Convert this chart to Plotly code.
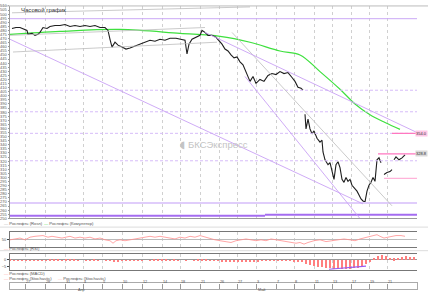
import plotly.graph_objects as go

W, H = 428, 293

# ---------------- data ----------------
# x = bar index (hourly chart), price in RUB
price_x = [2, 6, 10, 14, 17, 18, 22, 25, 28, 30, 33, 37, 40, 45, 50, 55, 60, 65, 70, 75, 80, 85, 90, 95, 98,
           100, 102, 105, 108, 112, 116, 120, 125, 130, 135, 140, 145, 150, 155, 160, 166, 171, 175, 177, 179,
           182, 186, 190, 192, 195, 198, 202, 206, 209, 212, 215, 218, 221, 224, 227, 230, 233, 237, 240, 243,
           246, 250, 254, 258, 262, 266, 270, 274, 278, 282, 285, 288, 291, 293, None,
           295, 296, 298, 300, 302, 304, 307, 310, 312, 313, 315, 318, 320, 322, 324, 326, 328, 330, 332, 334,
           336, 338, 340, 342, 345, 347, 349, 351, 353, 355, 357, 359, 361, 363, 365, 367, 369, 371, None,
           374, 377, 380, 382, None, 384, 386, 389, 392, 395]
price_y = [482.4, 483.6, 483.6, 481.2, 480.0, 475.2, 476.4, 474.0, 475.2, 477.6, 483.6, 482.4, 484.8, 486.0,
           486.0, 487.2, 484.8, 486.0, 484.8, 486.0, 484.8, 486.0, 483.6, 483.6, 480.0, 469.2, 459.6, 465.6,
           462.0, 459.6, 457.2, 458.4, 460.8, 463.2, 465.6, 468.0, 466.8, 469.2, 468.0, 470.4, 470.4, 469.2,
           468.0, 451.2, 463.2, 469.2, 471.6, 474.0, 480.0, 477.6, 474.0, 474.0, 471.6, 468.0, 463.2, 457.2,
           454.8, 450.0, 446.4, 447.6, 441.6, 438.0, 427.2, 417.6, 423.6, 415.2, 420.0, 417.6, 424.8, 427.2,
           426.0, 429.6, 427.2, 428.4, 422.4, 417.6, 410.4, 409.2, 406.8, None,
           377.4, 359.4, 371.4, 359.4, 353.4, 357.0, 348.0, 343.2, 345.6, 331.2, 321.6, 315.6, 318.0, 307.2,
           297.6, 315.6, 319.2, 312.0, 297.6, 294.0, 300.0, 295.2, 297.6, 290.4, 285.6, 283.2, 278.4, 273.6,
           271.2, 270.0, 283.2, 290.4, 294.0, 300.0, 295.2, 321.6, 324.0, 318.0, None,
           303.6, 306.0, 307.2, 309.6, None, 321.6, 325.2, 321.6, 324.0, 327.6]

ma_x = [0, 50, 110, 170, 210, 240, 270, 290, 310, 330, 345, 360, 375, 390]
ma_y = [475.2, 478.8, 481.2, 476.4, 472.8, 465.6, 454.8, 450.0, 429.6, 408.0, 390.0, 376.8, 367.2, 358.8]

# horizontal levels
level_values = [494.4, 406.8, 380.4, 354.0, 320.4, 268.8]
support_value = 253.2
pink_start = [368, 382, 374]
pink_values = [328.8, 354.0, 298.8]

# trend lines (x0, y0, x1, y1)
grey_trends = [(2, 501.6, 240, 508.8), (0, 474.0, 195, 483.6), (3, 453.6, 207, 465.6), (222, 477.6, 382, 265.2)]
violet_trends = [(0, 469.2, 353, 267.6), (195, 477.6, 407, 355.0), (235, 423.6, 350, 249.6)]

rsi_x = [0, 5, 10, 15, 20, 25, 30, 33, 38, 42, 47, 52, 56, 60, 65, 70, 75, 80, 85, 90, 95, 100, 103, 106, 110,
         115, 120, 125, 130, 135, 140, 145, 150, 155, 160, 165, 170, 175, 180, 185, 190, 195, 200, 205, 210,
         215, 221, 226, 231, 236, 241, 246, 251, 256, 261, 266, 271, 276, 281, 286, 290, 294, 298, 304, 310,
         316, 322, 328, 334, 340, 345, 350, 354, 357, 361, 364, 367, 370, 374, 378, 382, 386, 391, 395]
rsi_y = [47, 53, 59, 47, 65, 71, 71, 76, 65, 71, 65, 59, 65, 71, 59, 65, 59, 65, 53, 59, 47, 41, 24, 41, 47,
         41, 47, 53, 59, 65, 71, 65, 71, 65, 59, 53, 65, 59, 71, 65, 76, 65, 53, 47, 41,
         35, 29, 41, 47, 53, 47, 41, 47, 41, 53, 47, 41, 35, 29, 24, 29, 18, 29, 41, 47,
         35, 41, 47, 53, 47, 41, 53, 59, 65, 71, 76, 82, 71, 59, 65, 71, 76, 76, 71]

macd_x = list(range(0, 408, 4))
macd_y = [0.2, 0.1, -0.1, -0.3, -0.4, -0.3, -0.2, -0.3, -0.2, 0.1, 0.2, 0.3, 0.2, 0.1, 0.2, 0.3, 0.2, 0.1, 0.0,
          -0.1, 0.1, 0.2, 0.1, 0.0, -0.2, -0.5, -0.7, -0.6, -0.5, -0.4, -0.4, -0.3, -0.2, -0.1, 0.0, 0.1, 0.2,
          0.2, 0.3, 0.2, 0.1, 0.2, 0.1, 0.0, -0.2, 0.0, 0.1, 0.3, 0.4, 0.3, 0.1, -0.2, -0.5, -0.8, -1.0, -1.1,
          -1.2, -1.2, -1.3, -1.1, -1.0, -0.8, -0.6, -0.5, -0.4, -0.3, -0.2, -0.2, -0.1, -0.2, -0.3, -0.6, -1.0,
          -1.6, -2.4, -3.2, -4.0, -4.6, -5.2, -5.7, -6.0, -6.2, -6.4, -6.5, -6.4, -6.2, -6.0, -5.6, -4.8, -3.0,
          -0.8, 1.5, 3.0, 3.6, 3.2, 2.0, 1.4, 2.0, 2.6, 2.8, 2.7, 2.5]
macd_div = (319, -6.9, 356, -4.6)

day_ticks = [15, 35, 55, 73, 92, 112, 132, 152, 170, 190, 209, 227, 246, 266, 284, 304, 322, 341, 359, 377]
day_labels = ["27", "28", "31", "4", "5", "10", "12", "14", "18", "21", "26", "27", "3", "7", "8", "11", "13",
              "17", "19", "21"]
month_ticks = [66, 246]
month_labels = ["Апр", "Май"]
price_ticks = list(range(250, 511, 5))
marker_labels = [354.0, 328.8]

# ---------------- figure ----------------
def py(p):
    return 1 - p / H

def px(p):
    return p / W

FONT = "Liberation Sans"
XD = [px(10), px(417)]
grid = dict(showgrid=True, gridcolor="#d0d0d0", griddash="dot", gridwidth=1)

fig = go.Figure()
fig.add_trace(go.Scatter(x=ma_x, y=ma_y, mode="lines", line=dict(color="#3ee03e", width=1.2),
                         xaxis="x", yaxis="y", showlegend=False, line_shape="spline"))
fig.add_trace(go.Scatter(x=price_x, y=price_y, mode="lines", line=dict(color="#1e1e1e", width=1.1),
                         xaxis="x", yaxis="y", showlegend=False, connectgaps=False))
fig.add_trace(go.Scatter(x=rsi_x, y=rsi_y, mode="lines", line=dict(color="#ff8f8f", width=0.8),
                         xaxis="x2", yaxis="y2", showlegend=False))
fig.add_trace(go.Bar(x=macd_x, y=macd_y, marker=dict(color="#ff7f7f", line=dict(width=0)), width=1.2,
                     xaxis="x3", yaxis="y3", showlegend=False))

shapes = []
for i, v in enumerate(level_values):
    dash = "solid" if i in (0, 5) else "3px,2px"
    w = 2 if i == 5 else 1
    col = "#e0cdfb" if i == 5 else ("#caa8f6" if i == 0 else "#d6bcf8")
    shapes.append(dict(type="line", xref="x", yref="y", x0=0, x1=407, y0=v, y1=v,
                       line=dict(color=col, width=w, dash=dash)))
shapes.append(dict(type="line", xref="x", yref="y", x0=0, x1=255, y0=support_value, y1=support_value,
                   line=dict(color="#a46cf0", width=2)))
shapes.append(dict(type="line", xref="x", yref="y", x0=255, x1=407, y0=support_value + 1.2,
                   y1=support_value + 1.2, line=dict(color="#a46cf0", width=2)))
for i, (x0, v) in enumerate(zip(pink_start, pink_values)):
    col = "#ffb3d9" if i == 2 else "#ff77c0"
    shapes.append(dict(type="line", xref="x", yref="y", x0=x0, x1=407, y0=v, y1=v,
                       line=dict(color=col, width=1.2)))
for (x0, y0, x1, y1) in grey_trends:
    shapes.append(dict(type="line", xref="x", yref="y", x0=x0, y0=y0, x1=x1, y1=y1,
                       line=dict(color="#bdbdbd", width=0.8)))
for (x0, y0, x1, y1) in violet_trends:
    shapes.append(dict(type="line", xref="x", yref="y", x0=x0, y0=y0, x1=x1, y1=y1,
                       line=dict(color="#c9a2f5", width=0.9)))
x0, y0, x1, y1 = macd_div
shapes.append(dict(type="line", xref="x3", yref="y3", x0=x0, y0=y0, x1=x1, y1=y1,
                   line=dict(color="#9a5cf0", width=1.2)))
# panel separators
for sy in [228, 252]:
    shapes.append(dict(type="line", xref="paper", yref="paper", x0=0, x1=1, y0=py(sy), y1=py(sy),
                       line=dict(color="#dcdcdc", width=1)))
shapes.append(dict(type="line", xref="paper", yref="paper", x0=0, x1=1, y0=py(3), y1=py(3),
                   line=dict(color="#bbbbbb", width=1)))

ann = []
ann.append(dict(text="Часовой график", x=px(19), y=py(7), xref="paper", yref="paper", xanchor="left",
                yanchor="middle", showarrow=False, font=dict(size=6, color="#333", family=FONT)))
ann.append(dict(text="БКСЭкспресс", x=px(218), y=py(144), xref="paper", yref="paper", showarrow=False,
                font=dict(size=9.5, color="#c4c4c4", family=FONT)))
ann.append(dict(text="◖", x=px(182), y=py(144), xref="paper", yref="paper", showarrow=False,
                font=dict(size=10, color="#c4c4c4", family="DejaVu Sans")))

def legend(txt, col, xpx, ypx):
    ann.append(dict(text=f'<span style="color:{col}">—</span> {txt}', x=px(xpx), y=py(ypx), xref="paper",
                    yref="paper", xanchor="left", yanchor="middle", showarrow=False,
                    font=dict(size=4.2, color="#555", family=FONT)))

legend("Роснефть (Rosn)", "#aaaaaa", 2, 224)
legend("Роснефть (Комулятор)", "#3ee03e", 42, 224)
legend("Роснефть (RSI)", "#ff8f8f", 2, 250)
legend("Роснефть (MACD)", "#ff8f8f", 2, 275.5)
legend("Роснефть (Stochastic)", "#ff8f8f", 2, 280.5)
legend("Роснефть (Stochastic)", "#ffb0b0", 56, 280.5)

for mx, ml in zip(month_ticks, month_labels):
    ann.append(dict(text=ml, x=mx, y=py(292.3), xref="x4", yref="paper", xanchor="left", yanchor="middle",
                    showarrow=False, font=dict(size=3.8, color="#555", family=FONT)))
for i, v in enumerate(marker_labels):
    ann.append(dict(text=f"{v:.1f}", x=1.0, y=v, xref="paper", yref="y", xanchor="right", yanchor="middle",
                    showarrow=False, bgcolor="#ffc6e6" if i == 0 else "#d9d9d9",
                    font=dict(size=4, color="#333", family=FONT), borderpad=0))

tickfont = dict(size=4, color="#555", family=FONT)
ax_common = dict(showline=True, linecolor="#9a9a9a", linewidth=1, mirror=False, zeroline=False)

fig.update_layout(
    width=W, height=H, margin=dict(l=0, r=0, t=0, b=0),
    paper_bgcolor="white", plot_bgcolor="white", bargap=0, showlegend=False,
    shapes=shapes, annotations=ann,
    xaxis=dict(domain=XD, range=[0, 407], anchor="y", tickvals=day_ticks, showticklabels=False, ticks="",
               **grid, **ax_common),
    xaxis2=dict(domain=XD, matches="x", anchor="y2", tickvals=day_ticks, showticklabels=False, ticks="",
                **grid, showline=True, linecolor="#777", mirror=True, zeroline=False),
    xaxis3=dict(domain=XD, matches="x", anchor="y3", tickvals=day_ticks, showticklabels=False, ticks="",
                **grid, showline=True, linecolor="#777", mirror=True, zeroline=False),
    xaxis4=dict(domain=XD, matches="x", anchor="y5", tickvals=day_ticks, ticktext=day_labels,
                ticks="inside", ticklen=5, tickcolor="#999", ticklabelposition="inside right",
                tickfont=dict(size=3.8, color="#555", family=FONT), showgrid=False,
                showline=True, linecolor="#aaa", mirror=True, zeroline=False),
    yaxis=dict(domain=[py(219), py(3)], range=[250, 510], anchor="x", side="left", tickvals=price_ticks,
               ticks="outside", ticklen=1.5, tickcolor="#999", tickfont=tickfont, showgrid=False,
               **ax_common),
    yaxis4=dict(overlaying="y", range=[250, 510], anchor="x", side="right", tickvals=price_ticks,
                ticks="outside", ticklen=1.5, tickcolor="#999", tickfont=tickfont, showgrid=False,
                **ax_common),
    yaxis2=dict(domain=[py(248), py(233)], range=[0, 100], anchor="x2", tickvals=[50], ticks="outside",
                ticklen=2, tickfont=tickfont, showgrid=True, gridcolor="#bbb", showline=True,
                linecolor="#777", zeroline=False),
    yaxis6=dict(overlaying="y2", range=[0, 100], anchor="x2", side="right", tickvals=[50], ticks="outside",
                ticklen=2, tickfont=tickfont, showgrid=False, showline=True, linecolor="#777",
                zeroline=False),
    yaxis3=dict(domain=[py(272), py(255)], range=[-7.7, 4.6], anchor="x3", tickvals=[0, -5],
                ticks="outside", ticklen=2, tickfont=tickfont, showgrid=False, zeroline=True,
                zerolinecolor="#999", zerolinewidth=1, showline=True, linecolor="#777"),
    yaxis7=dict(overlaying="y3", range=[-7.7, 4.6], anchor="x3", side="right", tickvals=[0, -5],
                ticks="outside", ticklen=2, tickfont=tickfont, showgrid=False, zeroline=False,
                showline=True, linecolor="#777"),
    yaxis5=dict(domain=[py(290.5), py(285)], range=[0, 1], anchor="x4", showticklabels=False, ticks="",
                showgrid=False, zeroline=False, showline=True, linecolor="#aaa", mirror=True),
)

fig.write_html("out.html")
